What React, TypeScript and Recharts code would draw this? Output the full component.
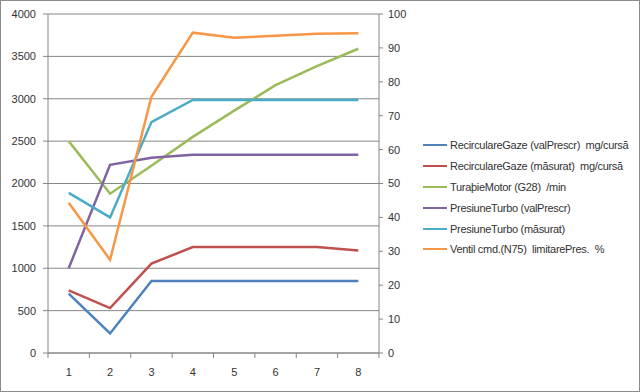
import React from 'react';
import { LineChart, Line, XAxis, YAxis, CartesianGrid } from 'recharts';

const categories = ['1', '2', '3', '4', '5', '6', '7', '8'];
const recircPrescr = [700, 230, 850, 850, 850, 850, 850, 850];
const recircMasurat = [740, 530, 1055, 1250, 1250, 1250, 1250, 1210];
const turatieMotor = [2500, 1880, 2210, 2550, 2860, 3160, 3385, 3590];
const turboPrescr = [1000, 2220, 2305, 2340, 2340, 2340, 2340, 2340];
const turboMasurat = [1890, 1600, 2725, 2985, 2985, 2985, 2985, 2985];
const ventilN75 = [44.3, 27.5, 75.6, 94.5, 93, 93.6, 94.2, 94.3];

const leftTicks = [0, 500, 1000, 1500, 2000, 2500, 3000, 3500, 4000];
const rightTicks = [0, 10, 20, 30, 40, 50, 60, 70, 80, 90, 100];

const series = [
  { key: 'recircPrescr', name: 'RecirculareGaze (valPrescr)  mg/cursă', color: '#4F81BD', axis: 'left' },
  { key: 'recircMasurat', name: 'RecirculareGaze (măsurat)  mg/cursă', color: '#C0504D', axis: 'left' },
  { key: 'turatieMotor', name: 'TuraþieMotor (G28)  /min', color: '#9BBB59', axis: 'left' },
  { key: 'turboPrescr', name: 'PresiuneTurbo (valPrescr)', color: '#8064A2', axis: 'left' },
  { key: 'turboMasurat', name: 'PresiuneTurbo (măsurat)', color: '#4BACC6', axis: 'left' },
  { key: 'ventilN75', name: 'Ventil cmd.(N75)  limitarePres.  %', color: '#F79646', axis: 'right' },
];

const data = categories.map((c, i) => ({
  cat: c,
  recircPrescr: recircPrescr[i],
  recircMasurat: recircMasurat[i],
  turatieMotor: turatieMotor[i],
  turboPrescr: turboPrescr[i],
  turboMasurat: turboMasurat[i],
  ventilN75: ventilN75[i],
}));

const FONT = '"Liberation Sans", Arial, sans-serif';
const AXIS = '#868686';
const PLOT_LEFT = 48;
const PLOT_RIGHT = 379;
const HALF_BAND = (PLOT_RIGHT - PLOT_LEFT) / categories.length / 2;

function XTick(props: any) {
  const { x, y, payload, index } = props;
  return (
    <g>
      <line x1={x - HALF_BAND} x2={x - HALF_BAND} y1={y} y2={y + 5} stroke={AXIS} />
      {index === categories.length - 1 && (
        <line x1={x + HALF_BAND} x2={x + HALF_BAND} y1={y} y2={y + 5} stroke={AXIS} />
      )}
      <text x={x} y={y + 23} textAnchor="middle" fontSize={11} fill="#333" fontFamily={FONT}>
        {payload.value}
      </text>
    </g>
  );
}

export default function App() {
  return (
    <div
      style={{
        position: 'absolute',
        left: 0,
        top: 0,
        width: 640,
        height: 392,
        boxSizing: 'border-box',
        border: '1px solid #8a8a8a',
        background: '#fff',
        fontFamily: FONT,
      }}
    >
      <div style={{ position: 'absolute', left: -1, top: -1 }}>
        <LineChart width={640} height={392} data={data} margin={{ top: 14, right: 221, left: 0, bottom: 9 }}>
          <CartesianGrid yAxisId="left" vertical={false} stroke={AXIS} />
          <XAxis
            dataKey="cat"
            stroke={AXIS}
            height={30}
            padding={{ left: HALF_BAND, right: HALF_BAND }}
            tickLine={false}
            tickSize={0}
            tickMargin={0}
            tick={<XTick />}
            interval={0}
          />
          <YAxis
            yAxisId="left"
            domain={[0, 4000]}
            ticks={leftTicks}
            width={48}
            stroke={AXIS}
            tickSize={5}
            tickMargin={7}
            tick={{ fontSize: 11, fill: '#333', fontFamily: FONT }}
          />
          <YAxis
            yAxisId="right"
            orientation="right"
            domain={[0, 100]}
            ticks={rightTicks}
            width={40}
            stroke={AXIS}
            tickSize={4}
            tickMargin={5}
            tick={{ fontSize: 11, fill: '#333', fontFamily: FONT, textAnchor: 'start' }}
          />
          {series.map((s) => (
            <Line
              key={s.key}
              yAxisId={s.axis}
              dataKey={s.key}
              name={s.name}
              stroke={s.color}
              strokeWidth={2.5}
              dot={false}
              activeDot={false}
              isAnimationActive={false}
            />
          ))}
        </LineChart>
      </div>
      <div style={{ position: 'absolute', left: 422, top: 134 }}>
        {series.map((s) => (
          <div key={s.key} style={{ display: 'flex', alignItems: 'center', height: 20.8 }}>
            <div style={{ width: 24, height: 2, background: s.color, marginRight: 3 }} />
            <span style={{ fontSize: 11, color: '#333', whiteSpace: 'pre', letterSpacing: -0.3 }}>{s.name}</span>
          </div>
        ))}
      </div>
    </div>
  );
}
